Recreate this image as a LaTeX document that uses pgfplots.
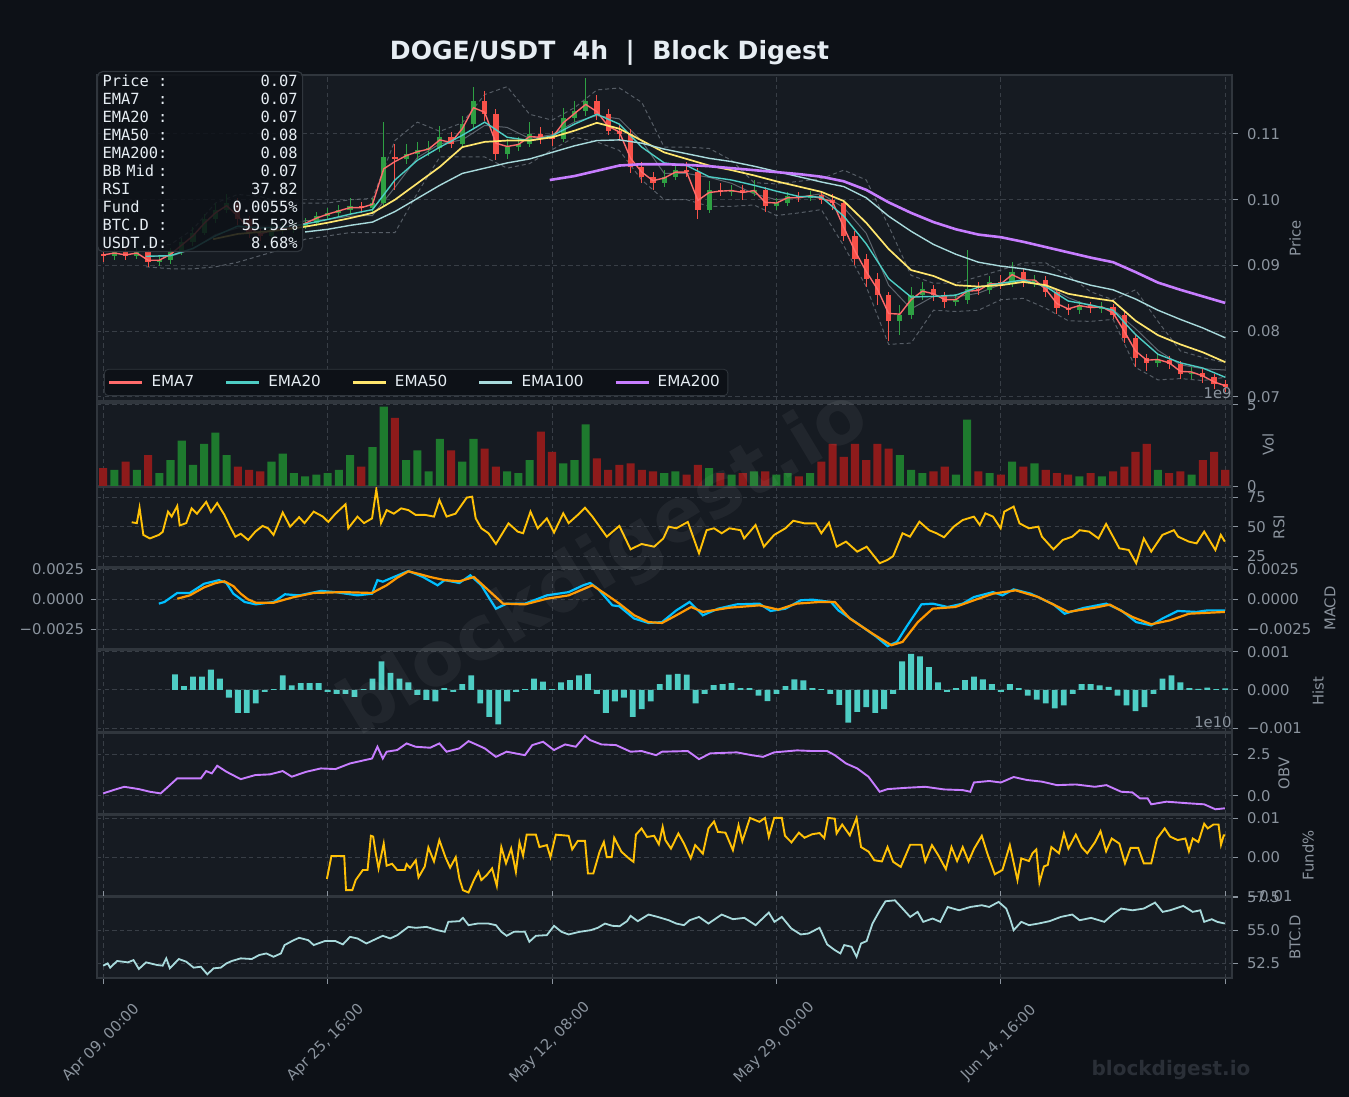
\documentclass[border=0pt]{standalone}
\usepackage{fontspec}
\setmainfont{DejaVu Sans}
\newfontfamily\monofont{DejaVu Sans Mono}
\usepackage{pgfplots}
\usepackage{pgfplotstable}
\pgfplotsset{compat=1.18}

\definecolor{figbg}{HTML}{0D1117}
\definecolor{axbg}{HTML}{161B22}
\definecolor{spine}{HTML}{30363D}
\definecolor{gridc}{HTML}{383E46}
\definecolor{tickc}{HTML}{8B949E}
\definecolor{txt}{HTML}{E6EDF3}
\definecolor{cup}{HTML}{2EA043}
\definecolor{cdn}{HTML}{F85149}
\definecolor{vup}{HTML}{1E7A2E}
\definecolor{vdn}{HTML}{8E1B1B}
\definecolor{ema7}{HTML}{FF6B6B}
\definecolor{ema20}{HTML}{4ECDC4}
\definecolor{ema50}{HTML}{FFE66D}
\definecolor{ema100}{HTML}{A8DADC}
\definecolor{ema200}{HTML}{C77DFF}
\definecolor{rsic}{HTML}{FFC107}
\definecolor{macdc}{HTML}{00BFFF}
\definecolor{sigc}{HTML}{FF9800}
\definecolor{wmk}{HTML}{2A2F37}

\newcommand{\tickfont}{\fontsize{7.4}{8.8}\selectfont}
\newcommand{\infoline}[2]{\makebox[97.5pt][s]{\makebox[27.8pt][l]{#1}:\hfill #2}}

\pgfplotstableread{
x o c h l
5 0.0915 0.0920 0.0928 0.0908
15 0.0915 0.0920 0.0927 0.0910
25 0.0905 0.0908 0.0914 0.0899
30 0.0908 0.0920 0.0926 0.0903
35 0.0920 0.0935 0.0942 0.0916
40 0.0935 0.0950 0.0958 0.0930
45 0.0950 0.0970 0.0978 0.0946
50 0.0970 0.0985 0.0995 0.0965
55 0.0985 0.0995 0.1008 0.0980
75 0.0945 0.0955 0.0962 0.0940
80 0.0955 0.0957 0.0966 0.0948
85 0.0957 0.0960 0.0968 0.0950
90 0.0960 0.0965 0.0972 0.0955
95 0.0965 0.0975 0.0982 0.0960
100 0.0975 0.0980 0.0988 0.0970
105 0.0980 0.0985 0.0992 0.0974
110 0.0985 0.0990 0.1002 0.0978
120 0.0988 0.0995 0.1003 0.0982
125 0.0995 0.1065 0.1118 0.0990
135 0.1062 0.1070 0.1085 0.1055
140 0.1070 0.1075 0.1088 0.1062
145 0.1075 0.1078 0.1090 0.1066
150 0.1078 0.1095 0.1112 0.1072
160 0.1085 0.1115 0.1128 0.1080
165 0.1115 0.1150 0.1172 0.1108
180 0.1070 0.1080 0.1092 0.1062
185 0.1080 0.1085 0.1096 0.1074
190 0.1085 0.1100 0.1118 0.1080
205 0.1093 0.1125 0.1140 0.1088
210 0.1125 0.1135 0.1150 0.1118
215 0.1135 0.1150 0.1185 0.1128
250 0.1025 0.1035 0.1045 0.1020
255 0.1035 0.1045 0.1052 0.1030
270 0.0985 0.1015 0.1028 0.0980
280 0.1013 0.1015 0.1022 0.1005
290 0.1010 0.1015 0.1030 0.1005
300 0.0990 0.0995 0.1002 0.0984
305 0.0995 0.1005 0.1012 0.0990
315 0.1003 0.1007 0.1014 0.0998
355 0.0815 0.0825 0.0840 0.0795
360 0.0825 0.0855 0.0868 0.0818
365 0.0855 0.0865 0.0875 0.0848
380 0.0845 0.0848 0.0856 0.0838
385 0.0848 0.0865 0.0924 0.0842
395 0.0862 0.0875 0.0884 0.0856
405 0.0872 0.0890 0.0905 0.0868
415 0.0875 0.0878 0.0886 0.0868
435 0.0832 0.0840 0.0846 0.0826
445 0.0835 0.0837 0.0844 0.0828
470 0.0752 0.0757 0.0764 0.0745
485 0.0735 0.0737 0.0745 0.0728
}\candup

\pgfplotstableread{
x o c h l
0 0.0918 0.0915 0.0925 0.0905
10 0.0920 0.0915 0.0926 0.0908
20 0.0920 0.0905 0.0924 0.0898
60 0.0995 0.0970 0.1002 0.0962
65 0.0970 0.0950 0.0976 0.0942
70 0.0950 0.0945 0.0957 0.0937
115 0.0990 0.0988 0.0996 0.0980
130 0.1065 0.1062 0.1085 0.1015
155 0.1095 0.1085 0.1103 0.1078
170 0.1150 0.1130 0.1165 0.1120
175 0.1130 0.1070 0.1138 0.1060
195 0.1100 0.1095 0.1110 0.1085
200 0.1095 0.1093 0.1105 0.1082
220 0.1150 0.1130 0.1160 0.1122
225 0.1130 0.1105 0.1138 0.1098
230 0.1105 0.1100 0.1115 0.1090
235 0.1100 0.1050 0.1108 0.1040
240 0.1050 0.1035 0.1058 0.1025
245 0.1035 0.1025 0.1042 0.1015
260 0.1045 0.1042 0.1058 0.1035
265 0.1042 0.0985 0.1048 0.0970
275 0.1015 0.1013 0.1025 0.1005
285 0.1015 0.1010 0.1022 0.1000
295 0.1015 0.0990 0.1020 0.0982
310 0.1005 0.1003 0.1012 0.0996
320 0.1007 0.1000 0.1012 0.0993
325 0.1000 0.0995 0.1008 0.0985
330 0.0995 0.0945 0.1000 0.0938
335 0.0945 0.0910 0.0952 0.0900
340 0.0910 0.0880 0.0918 0.0868
345 0.0880 0.0855 0.0888 0.0840
350 0.0855 0.0815 0.0860 0.0785
370 0.0865 0.0855 0.0870 0.0846
375 0.0855 0.0845 0.0860 0.0835
390 0.0865 0.0862 0.0875 0.0855
400 0.0875 0.0872 0.0886 0.0865
410 0.0890 0.0875 0.0895 0.0868
420 0.0878 0.0860 0.0884 0.0852
425 0.0860 0.0835 0.0864 0.0826
430 0.0835 0.0832 0.0842 0.0825
440 0.0840 0.0835 0.0845 0.0828
450 0.0837 0.0825 0.0842 0.0818
455 0.0825 0.0790 0.0830 0.0782
460 0.0790 0.0760 0.0795 0.0745
465 0.0760 0.0752 0.0766 0.0740
475 0.0757 0.0750 0.0762 0.0742
480 0.0750 0.0735 0.0755 0.0728
490 0.0737 0.0730 0.0742 0.0722
495 0.0730 0.0720 0.0735 0.0712
500 0.0720 0.0715 0.0726 0.0708
}\canddn

\pgfplotsset{
  panel/.style={
    anchor=north west, scale only axis, width=567.5pt,
    xmin=-2.76, xmax=503,
    axis background/.style={fill=axbg},
    axis line style={draw=spine, line width=0.6pt},
    tick label style={font=\tickfont, text=tickc},
    xtick={0,100,200,300,400,500}, xticklabels={},
    xtick style={draw=none},
    ytick pos=right, yticklabel pos=right,
    ytick style={draw=tickc, line width=0.5pt},
    tick align=outside, major tick length=3pt,
    xmajorgrids, ymajorgrids,
    major grid style={draw=gridc, line width=0.5pt, dash pattern=on 2.2pt off 1.6pt},
    yticklabel style={xshift=1pt},
    every axis y label/.style={at={(rel axis cs:1,0.5)}, anchor=center, font=\tickfont, text=tickc},
    /pgf/number format/assume math mode=true,
  },
  candle/.style 2 args={forget plot, draw=none, mark=none, error bars/.cd, y dir=both, y explicit, error mark=none, error bar style={line width=#1, draw=#2}},
}

\begin{document}
\begin{tikzpicture}
\fill[figbg] (0pt,0pt) rectangle (674.5pt,-548.5pt);

% ---------------- Price ----------------
\begin{axis}[panel, at={(48.5pt,-37.5pt)}, height=163pt,
  ymin=0.06939, ymax=0.11897,
  ytick={0.07,0.08,0.09,0.10,0.11}, yticklabels={0.07,0.08,0.09,0.10,0.11},
  ylabel={Price}, ylabel style={xshift=31.5pt, rotate=90},
  legend style={at={(0,0)}, anchor=south west, xshift=3.5pt, yshift=2.5pt,
    fill=figbg, draw=spine, rounded corners=2pt, text=txt,
    font=\fontsize{7.6}{9}\selectfont, legend columns=5,
    inner xsep=2pt, inner ysep=1pt,
    /tikz/every odd column/.append style={column sep=2pt},
    /tikz/every even column/.append style={column sep=13.5pt}},
  legend cell align=left,
  legend image code/.code={\draw[#1, line width=1.05pt] (0pt,0pt) -- (16.5pt,0pt);},
]
\addplot[forget plot, tickc, opacity=0.55, line width=0.5pt, dash pattern=on 2pt off 1.5pt] coordinates {
(19,0.0930)(30,0.0932)(40,0.0955)(50,0.0995)(60,0.1008)(70,0.1005)(80,0.0995)(90,0.0995)(100,0.0995)(110,0.1000)(120,0.1002)(130,0.1090)(140,0.1118)(150,0.1104)(160,0.1117)(170,0.1160)(180,0.1172)(190,0.1130)(200,0.1121)(210,0.1140)(220,0.1167)(230,0.1170)(240,0.1148)(250,0.1080)(260,0.1080)(270,0.1078)(280,0.1060)(290,0.1026)(300,0.1024)(310,0.1028)(320,0.1032)(330,0.1045)(340,0.1030)(350,0.0960)(360,0.0885)(370,0.0873)(380,0.0873)(390,0.0883)(400,0.0893)(410,0.0904)(420,0.0904)(430,0.0885)(440,0.0860)(450,0.0848)(460,0.0863)(470,0.0815)(480,0.0770)(490,0.0760)(500,0.0752)};
\addplot[forget plot, tickc, opacity=0.55, line width=0.5pt, dash pattern=on 2pt off 1.5pt] coordinates {
(19,0.0898)(30,0.0895)(40,0.0895)(50,0.0898)(60,0.0905)(70,0.0915)(80,0.0925)(90,0.0940)(100,0.0945)(110,0.0950)(120,0.0950)(130,0.0950)(140,0.1010)(150,0.1065)(160,0.1065)(170,0.1065)(180,0.1048)(190,0.1055)(200,0.1076)(210,0.1095)(220,0.1088)(230,0.1075)(240,0.1030)(250,0.1000)(260,0.1000)(270,0.0990)(280,0.0990)(290,0.0992)(300,0.0976)(310,0.0980)(320,0.0985)(330,0.0930)(340,0.0868)(350,0.0780)(360,0.0782)(370,0.0832)(380,0.0830)(390,0.0832)(400,0.0848)(410,0.0850)(420,0.0835)(430,0.0816)(440,0.0815)(450,0.0818)(460,0.0745)(470,0.0726)(480,0.0728)(490,0.0725)(500,0.0730)};
\addplot[forget plot, tickc, opacity=0.6, line width=0.5pt] coordinates {
(19,0.0914)(30,0.0914)(40,0.0925)(50,0.0947)(60,0.0957)(70,0.0960)(80,0.0960)(90,0.0968)(100,0.0970)(110,0.0975)(120,0.0976)(130,0.1019)(140,0.1064)(150,0.1085)(160,0.1091)(170,0.1113)(180,0.1110)(190,0.1093)(200,0.1099)(210,0.1118)(220,0.1128)(230,0.1123)(240,0.1089)(250,0.1040)(260,0.1040)(270,0.1034)(280,0.1025)(290,0.1009)(300,0.1000)(310,0.1004)(320,0.1009)(330,0.0988)(340,0.0949)(350,0.0870)(360,0.0834)(370,0.0853)(380,0.0852)(390,0.0858)(400,0.0871)(410,0.0877)(420,0.0870)(430,0.0851)(440,0.0838)(450,0.0833)(460,0.0804)(470,0.0771)(480,0.0749)(490,0.0743)(500,0.0741)};
% candles: wicks
\addplot[candle={0.5pt}{cup}]
  table[x=x, y expr={(\thisrow{h}+\thisrow{l})/2}, y error expr={(\thisrow{h}-\thisrow{l})/2}] {\candup};
\addplot[candle={0.5pt}{cdn}]
  table[x=x, y expr={(\thisrow{h}+\thisrow{l})/2}, y error expr={(\thisrow{h}-\thisrow{l})/2}] {\canddn};
% candles: bodies
\addplot[candle={2.6pt}{cup}]
  table[x=x, y expr={(\thisrow{o}+\thisrow{c})/2}, y error expr={abs(\thisrow{c}-\thisrow{o})/2}] {\candup};
\addplot[candle={2.6pt}{cdn}]
  table[x=x, y expr={(\thisrow{o}+\thisrow{c})/2}, y error expr={abs(\thisrow{c}-\thisrow{o})/2}] {\canddn};
% EMAs
\addplot[ema7, line width=0.7pt] coordinates {
(0,0.0916)(5,0.0919)(10,0.0916)(15,0.0919)(20,0.0908)(25,0.0908)(30,0.0917)(35,0.0931)(40,0.0945)(45,0.0964)(50,0.0980)(55,0.0991)(60,0.0975)(65,0.0956)(70,0.0948)(75,0.0953)(80,0.0956)(85,0.0959)(90,0.0964)(95,0.0972)(100,0.0978)(105,0.0983)(110,0.0988)(115,0.0988)(120,0.0993)(125,0.1047)(130,0.1058)(135,0.1067)(140,0.1073)(145,0.1077)(150,0.1091)(155,0.1087)(160,0.1108)(165,0.1140)(170,0.1133)(175,0.1086)(180,0.1081)(185,0.1084)(190,0.1096)(195,0.1095)(200,0.1094)(205,0.1117)(210,0.1131)(215,0.1145)(220,0.1134)(225,0.1112)(230,0.1103)(235,0.1063)(240,0.1042)(245,0.1029)(250,0.1033)(255,0.1042)(260,0.1042)(265,0.0999)(270,0.1011)(275,0.1013)(280,0.1014)(285,0.1011)(290,0.1014)(295,0.0996)(300,0.0995)(305,0.1003)(310,0.1003)(315,0.1006)(320,0.1002)(325,0.0997)(330,0.0958)(335,0.0922)(340,0.0891)(345,0.0864)(350,0.0827)(355,0.0826)(360,0.0848)(365,0.0861)(370,0.0857)(375,0.0848)(380,0.0848)(385,0.0861)(390,0.0862)(395,0.0872)(400,0.0872)(405,0.0886)(410,0.0878)(415,0.0878)(420,0.0864)(425,0.0842)(430,0.0834)(435,0.0839)(440,0.0836)(445,0.0837)(450,0.0828)(455,0.0800)(460,0.0770)(465,0.0756)(470,0.0757)(475,0.0752)(480,0.0739)(485,0.0738)(490,0.0732)(495,0.0723)(500,0.0717)};
\addlegendentry{EMA7}
\addplot[ema20, line width=0.7pt] coordinates {
(19,0.0914)(30,0.0915)(40,0.0926)(50,0.0945)(60,0.0960)(70,0.0957)(80,0.0958)(90,0.0963)(100,0.0970)(110,0.0978)(120,0.0985)(130,0.1030)(140,0.1060)(150,0.1080)(160,0.1098)(170,0.1118)(180,0.1095)(190,0.1090)(200,0.1097)(210,0.1115)(220,0.1130)(230,0.1115)(240,0.1080)(250,0.1056)(260,0.1052)(270,0.1035)(280,0.1030)(290,0.1022)(300,0.1013)(310,0.1005)(320,0.1004)(330,0.0975)(340,0.0933)(350,0.0880)(360,0.0852)(370,0.0853)(380,0.0855)(390,0.0867)(400,0.0873)(410,0.0878)(420,0.0868)(430,0.0846)(440,0.0840)(450,0.0832)(460,0.0795)(470,0.0765)(480,0.0752)(490,0.0744)(500,0.0730)};
\addlegendentry{EMA20}
\addplot[ema50, line width=0.85pt] coordinates {
(49,0.0940)(60,0.0948)(70,0.0951)(80,0.0954)(90,0.0959)(100,0.0965)(110,0.0972)(120,0.0980)(130,0.1000)(140,0.1025)(150,0.1050)(160,0.1080)(170,0.1088)(180,0.1090)(190,0.1090)(200,0.1095)(210,0.1105)(220,0.1117)(230,0.1108)(240,0.1090)(250,0.1072)(260,0.1062)(270,0.1052)(280,0.1045)(290,0.1037)(300,0.1028)(310,0.1020)(320,0.1012)(330,0.0998)(340,0.0965)(350,0.0925)(360,0.0893)(370,0.0884)(380,0.0870)(390,0.0868)(400,0.0870)(410,0.0875)(420,0.0870)(430,0.0857)(440,0.0851)(450,0.0846)(460,0.0816)(470,0.0794)(480,0.0780)(490,0.0768)(500,0.0753)};
\addlegendentry{EMA50}
\addplot[ema100, line width=0.7pt] coordinates {
(90,0.0951)(100,0.0955)(110,0.0961)(120,0.0966)(130,0.0982)(140,0.1002)(150,0.1022)(160,0.1040)(170,0.1048)(180,0.1056)(190,0.1062)(200,0.1072)(210,0.1082)(220,0.1090)(230,0.1091)(240,0.1086)(250,0.1077)(260,0.1070)(270,0.1063)(280,0.1058)(290,0.1051)(300,0.1043)(310,0.1035)(320,0.1027)(330,0.1020)(340,0.1003)(350,0.0975)(360,0.0952)(370,0.0932)(380,0.0917)(390,0.0905)(400,0.0899)(410,0.0895)(420,0.0889)(430,0.0880)(440,0.0870)(450,0.0863)(460,0.0849)(470,0.0832)(480,0.0818)(490,0.0805)(500,0.0790)};
\addlegendentry{EMA100}
\addplot[ema200, line width=1.3pt] coordinates {
(199,0.1030)(210,0.1036)(220,0.1044)(230,0.1052)(240,0.1054)(250,0.1054)(260,0.1053)(270,0.1051)(280,0.1048)(290,0.1045)(300,0.1042)(310,0.1039)(320,0.1035)(330,0.1028)(340,0.1015)(350,0.0996)(360,0.0980)(370,0.0966)(380,0.0955)(390,0.0947)(400,0.0943)(410,0.0936)(420,0.0928)(430,0.0920)(440,0.0912)(450,0.0905)(460,0.0890)(470,0.0874)(480,0.0863)(490,0.0853)(500,0.0843)};
\addlegendentry{EMA200}
\end{axis}

% ---------------- Volume ----------------
\begin{axis}[panel, at={(48.5pt,-201.5pt)}, height=41.5pt,
  ymin=0, ymax=5.12, ytick={0,5}, yticklabels={0,5},
  ylabel={Vol}, ylabel style={xshift=18pt, rotate=90}]
\addplot[ybar, bar width=3.6, bar shift=0pt, fill=vup, draw=none] table[x=x, y=v] {
x v
5 1.0
15 1.0
25 0.8
30 1.6
35 2.8
40 1.3
45 2.6
50 3.3
55 1.9
75 1.5
80 2.0
85 0.8
90 0.6
95 0.7
100 0.8
105 1.0
110 1.9
120 2.4
125 4.9
135 1.6
140 2.2
145 0.9
150 2.9
160 1.5
165 2.9
180 0.9
185 0.8
190 1.6
205 1.4
210 1.6
215 3.8
250 0.8
255 0.9
270 1.1
280 0.7
290 0.9
300 0.7
305 0.8
315 0.8
355 1.9
360 1.0
365 0.8
380 0.7
385 4.1
395 0.8
405 1.5
415 1.4
435 0.6
445 0.6
470 1.0
485 0.7
};
\addplot[ybar, bar width=3.6, bar shift=0pt, fill=vdn, draw=none] table[x=x, y=v] {
x v
0 1.1
10 1.5
20 1.9
60 1.2
65 1.0
70 0.9
115 1.2
130 4.2
155 2.2
170 2.3
175 1.2
195 3.35
200 2.1
220 1.7
225 1.0
230 1.3
235 1.4
240 1.0
245 0.9
260 0.7
265 1.3
275 0.8
285 0.8
295 0.9
310 0.6
320 1.5
325 2.6
330 1.8
335 2.6
340 1.6
345 2.6
350 2.3
370 0.9
375 1.2
390 0.9
400 0.7
410 1.2
420 1.0
425 0.8
430 0.7
440 0.8
450 0.9
455 1.2
460 2.1
465 2.6
475 0.8
480 0.9
490 1.6
495 2.1
500 1.0
};
\end{axis}

% ---------------- RSI ----------------
\begin{axis}[panel, at={(48.5pt,-243.5pt)}, height=40pt,
  ymin=15.8, ymax=83.6, ytick={25,50,75}, yticklabels={25,50,75},
  ylabel={RSI}, ylabel style={xshift=23.5pt, rotate=90}]
\addplot[rsic, line width=0.95pt] coordinates {
(12.7,53.7)(15,53)(16.2,66)(17.9,43)(20.8,40)(24.8,43)(26.5,45.5)(28.9,62.7)(30.5,58.5)(33,67.5)(34.1,51)(37,53)(39.4,65.5)(41.8,61)(45.9,71)(48,62.5)(50.8,70)(54,60)(56.5,50)(58.9,41.5)(61.3,44)(64.6,38.7)(67.8,45.8)(71,50.6)(73.5,48.6)(75.9,43)(80,62)(83.3,50)(87.3,58)(89.7,53)(93.8,62.7)(97.9,58.5)(100.3,54)(103.5,61)(108,69)(109.2,48.6)(113.3,58.5)(116.2,53)(119.8,57)(121.7,81.6)(123.8,53)(126.3,64)(129.5,61)(132.8,65.5)(136,64)(139.2,60)(143.3,60)(147.4,58.5)(149.8,72.6)(153,58.5)(157,61)(162,74.6)(164.4,75.4)(166,57)(168.5,48.6)(171.7,44.4)(175,35.3)(180.6,52.8)(184.7,45.8)(187.1,44.4)(190.4,62.7)(193.6,48.6)(197.7,57)(200.9,45)(205,61.3)(207.4,53)(211.5,60)(214.7,66)(218,58.5)(221.2,50)(224.4,41.5)(230,50.6)(235,30.8)(239.9,35.3)(245.5,33)(249.6,40)(252,50)(255.4,48.6)(260.5,54)(265.5,27.4)(268.9,47)(272.2,48.6)(275.6,44.4)(279,48.6)(284,47)(285.6,40)(290.7,51.4)(294.4,33)(299,43)(304,48.6)(307.5,55)(312.5,52.8)(317.5,52.8)(320,44.4)(323.4,53.4)(326.8,33)(331,37.3)(336,28.8)(340.2,33)(346,19)(349.5,21.8)(352,25)(356.2,44.4)(359.5,41.5)(363.7,54.2)(368,47)(371.3,44.4)(374.7,41)(379,50)(383,55.6)(388,58.5)(390.6,51.4)(393.1,61.3)(396.5,58.5)(399.9,48.6)(401.5,62.7)(405.7,67)(408.3,52.8)(412.5,48.6)(416.7,50)(418.3,41.5)(423.4,30.8)(427.6,38.7)(431.8,41.5)(435.1,47)(439.3,45.8)(443.5,40)(446.9,52.3)(452.8,31.6)(457,30.2)(460.3,19)(463.7,40)(467,28.8)(472,43)(477.1,47)(479,41.5)(483.8,37.3)(487.2,35.8)(490.6,45.8)(495.6,30.2)(498,43)(499.8,37.3)};
\end{axis}

% ---------------- MACD (left labels) ----------------
\begin{axis}[panel, at={(48.5pt,-284pt)}, height=40.5pt,
  ymin=-4.14, ymax=2.61, ytick={-2.5,0,2.5}, yticklabels={−0.0025,0.0000,0.0025},
  ytick pos=left, yticklabel pos=left, yticklabel style={xshift=-1pt},
  xmajorgrids=false, ymajorgrids=false, axis background/.style={}, axis line style={draw=none}]
\addplot[draw=none] coordinates {(0,0)};
\end{axis}
% ---------------- MACD ----------------
\begin{axis}[panel, at={(48.5pt,-284pt)}, height=40.5pt,
  ymin=-4.14, ymax=2.61, ytick={-2.5,0,2.5}, yticklabels={−0.0025,0.0000,0.0025},
  ylabel={MACD}, ylabel style={xshift=49pt, rotate=90}]
\addplot[macdc, line width=1.1pt] coordinates {
(24.8,-0.36)(27.3,-0.22)(33,0.53)(38.6,0.53)(45,1.3)(51.6,1.6)(54.9,1.36)(58,0.47)(63,-0.22)(68,-0.42)(76,-0.22)(81,0.42)(87.3,0.33)(97,0.7)(103.5,0.6)(113.3,0.33)(119.8,0.47)(122.2,1.6)(124.6,1.47)(129.5,1.86)(136,2.36)(142.5,1.86)(149,1.17)(152.2,1.6)(158.7,1.36)(163.6,2.0)(168.5,1.17)(171.7,0.2)(175,-0.78)(179.8,-0.36)(188,-0.36)(197.7,0.33)(207.4,0.6)(213.9,1.17)(217,1.36)(220.4,0.89)(226.9,-0.5)(230,-0.58)(236.6,-1.6)(243,-1.97)(249,-1.9)(255.4,-0.92)(261.3,-0.22)(267.2,-1.33)(274,-0.78)(282.3,-0.42)(292.4,-0.36)(297.4,-0.97)(304,-0.78)(310.8,-0.08)(316,-0.03)(324.3,-0.22)(327.6,-0.92)(336,-2.0)(344.4,-3.1)(349.5,-3.9)(353.7,-3.55)(357.9,-2.3)(364.6,-0.42)(369.6,-0.36)(376.3,-0.64)(383,-0.36)(388,0.19)(396.5,0.6)(400.7,0.33)(405.7,0.83)(413.3,0.47)(423.4,-0.42)(428.4,-1.2)(436.8,-0.72)(446.9,-0.36)(453.6,-0.92)(460.3,-1.9)(467,-2.17)(472,-1.6)(478.8,-0.97)(487.2,-1.05)(492.2,-0.92)(499.8,-0.92)};
\addplot[sigc, line width=1.1pt] coordinates {
(33,0.05)(38.6,0.33)(45,1.0)(50,1.35)(54,1.5)(58,1.1)(61.3,0.47)(64.5,0.0)(68,-0.28)(76,-0.28)(84,0.14)(93.8,0.53)(106.8,0.6)(119.8,0.53)(126.3,1.17)(131,1.8)(136,2.33)(141,2.1)(145.7,1.86)(152.2,1.6)(158.7,1.5)(165.2,1.86)(171.7,0.75)(178.2,-0.36)(188,-0.42)(197.7,0.05)(207.4,0.33)(218,1.17)(223.6,0.47)(230,-0.36)(236.6,-1.33)(243,-1.9)(249,-1.97)(255.4,-1.33)(262,-0.64)(267.2,-1.05)(279,-0.7)(292.4,-0.5)(300.8,-0.86)(309,-0.36)(319.2,-0.22)(326,-0.22)(332.7,-1.6)(342.8,-2.86)(351.2,-3.83)(356.2,-3.55)(363,-1.9)(369.6,-0.78)(379.7,-0.64)(388,-0.08)(396.5,0.47)(406.6,0.75)(416.7,0.19)(430,-1.05)(441.8,-0.7)(448.6,-0.44)(458.6,-1.47)(467,-2.08)(475.4,-1.75)(483.8,-1.2)(499.8,-1.05)};
\end{axis}

% ---------------- Hist ----------------
\begin{axis}[panel, at={(48.5pt,-325pt)}, height=41pt,
  ymin=-1.097, ymax=1.044, ytick={-1,0,1}, yticklabels={−0.001,0.000,0.001},
  ylabel={Hist}, ylabel style={xshift=43pt, rotate=90}]
\addplot[ybar, bar width=2.6, bar shift=0pt, fill=ema20, draw=none] table[x=x, y=h] {
x h
32 0.41
36 0.1
40 0.35
44 0.35
48 0.53
52 0.3
56 -0.2
60 -0.6
64 -0.6
68 -0.35
72 -0.05
76 0.02
80 0.38
84 0.12
88 0.18
92 0.18
96 0.18
100 -0.05
104 -0.1
108 -0.1
112 -0.18
116 0.02
120 0.3
124 0.75
128 0.45
132 0.3
136 0.2
140 -0.13
144 -0.26
148 -0.3
152 0.05
156 -0.05
160 0.15
164 0.38
168 -0.35
172 -0.7
176 -0.9
180 -0.3
184 -0.05
188 0.02
192 0.3
196 0.22
200 0.02
204 0.2
208 0.26
212 0.38
216 0.42
220 -0.1
224 -0.6
228 -0.3
232 -0.2
236 -0.7
240 -0.5
244 -0.3
248 0.15
252 0.4
256 0.42
260 0.4
264 -0.35
268 -0.1
272 0.13
276 0.15
280 0.18
284 0.05
288 0.05
292 -0.15
296 -0.29
300 -0.1
304 0.1
308 0.28
312 0.25
316 0.05
320 0.02
324 -0.1
328 -0.39
332 -0.85
336 -0.57
340 -0.45
344 -0.6
348 -0.5
352 -0.1
356 0.75
360 0.94
364 0.88
368 0.6
372 0.2
376 -0.05
380 0.05
384 0.26
388 0.35
392 0.28
396 0.15
400 -0.05
404 0.15
408 0.05
412 -0.15
416 -0.25
420 -0.35
424 -0.48
428 -0.4
432 -0.1
436 0.15
440 0.15
444 0.12
448 0.08
452 -0.15
456 -0.4
460 -0.55
464 -0.45
468 -0.1
472 0.3
476 0.38
480 0.2
484 0.05
488 0.03
492 0.06
496 0.02
500 0.04
};
\end{axis}

% ---------------- OBV ----------------
\begin{axis}[panel, at={(48.5pt,-366.5pt)}, height=40.5pt,
  ymin=-1.105, ymax=3.79, ytick={0,2.5}, yticklabels={0.0,2.5},
  ylabel={OBV}, ylabel style={xshift=26pt, rotate=90}]
\addplot[ema200, line width=0.95pt] coordinates {
(0,0.14)(4.5,0.34)(9.4,0.54)(15.9,0.40)(20.8,0.24)(25.6,0.14)(28.9,0.54)(33,1.05)(38.6,1.05)(43.5,1.05)(45.9,1.49)(48.4,1.35)(50.8,1.81)(54.9,1.45)(61.3,1.0)(67.8,1.25)(74.3,1.29)(80,1.49)(84,1.15)(90.6,1.45)(97,1.65)(103.5,1.61)(110,1.95)(116.5,2.15)(119.8,2.25)(122.2,2.96)(124.6,2.25)(126.3,2.66)(131,2.76)(135.2,3.16)(139.2,2.96)(145.7,2.90)(149.8,3.16)(153,2.66)(158.7,2.86)(162.8,3.30)(166.8,3.06)(170,2.86)(175,2.35)(179.8,2.66)(187.9,2.45)(191.2,3.06)(196,3.26)(200.9,2.76)(205.8,3.10)(210.6,2.96)(214.7,3.62)(217,3.36)(222,3.10)(228.5,3.06)(235,2.66)(239.9,2.70)(246.4,2.45)(249,2.66)(260.5,2.70)(265.5,2.21)(270.5,2.56)(282.3,2.62)(289,2.45)(294,2.35)(299,2.62)(309.2,2.74)(316,2.70)(322.6,2.70)(326,2.45)(331,1.95)(336,1.65)(341,1.15)(346,0.24)(349.5,0.40)(358,0.48)(366.3,0.54)(374.7,0.38)(383,0.34)(386.4,0.24)(388,0.80)(394.8,0.89)(400,0.80)(405.7,1.13)(411.6,0.95)(418.3,0.85)(425,0.64)(433.4,0.68)(441.9,0.54)(447,0.64)(453.6,0.24)(458.6,0.20)(462,-0.16)(465.4,-0.16)(467,-0.52)(473.8,-0.36)(483.8,-0.46)(490.6,-0.52)(495.6,-0.82)(499.8,-0.76)};
\end{axis}

% ---------------- Funding ----------------
\begin{axis}[panel, at={(48.5pt,-407.5pt)}, height=40.5pt,
  ymin=-10, ymax=10.85, ytick={-10,0,10}, yticklabels={−0.01,0.00,0.01},
  ylabel={Fund\%}, ylabel style={xshift=38pt, rotate=90}]
\addplot[rsic, line width=0.95pt] coordinates {
(99.7,-5.6)(101.7,0.3)(107.4,0.3)(108.2,-8.5)(111,-8.5)(112.5,-5.9)(115.7,-3.3)(117.8,-3.3)(119.3,5.5)(120.3,5.3)(121.4,1.2)(122.7,-2.9)(125,3.5)(126.3,-2.2)(128.7,-1.7)(131,-3.3)(134.4,-3.3)(135.2,-1.8)(136.8,-2.8)(139.3,-0.8)(140.5,-5.2)(143.3,-2.4)(144.9,2.5)(147.4,-1.1)(149.8,4.4)(152.5,0)(154.6,-2.7)(157.1,0)(158.7,-5.5)(160.3,-8.5)(162.8,-9.1)(165.2,-5.9)(167.2,-3.7)(168.5,-5.9)(170.9,-4.6)(173.3,-2.9)(175.4,-7.4)(177.4,2.6)(179.5,-1.6)(181.8,2.2)(183.9,-3.8)(185.5,3.8)(187.1,0.4)(188.7,5.8)(192.8,5.8)(194.4,2.6)(197.7,3.1)(199.3,0)(201.7,5.8)(207.4,5.5)(209,2)(211.5,4.2)(214.7,4.2)(216,-4.2)(218.4,-4.2)(221.2,1.4)(223.1,3.9)(224.4,0)(226.6,0)(227.7,5)(230.9,1.4)(234.2,-0.3)(236.3,-1.2)(237.4,5.8)(239.9,7.4)(242.3,5.2)(245.5,5.5)(247.6,3.3)(249.3,7.8)(250.5,4.4)(253,2.2)(256.3,6.1)(258.8,3.5)(261.8,-0.3)(263.8,3.1)(267.2,0.9)(269.7,7.4)(272.2,9.2)(273.9,6.5)(277.3,6.3)(280.6,1.8)(283.1,8.2)(284.8,4.1)(288.2,10.1)(292.4,9.1)(294.9,10.1)(296.6,5.2)(299,10.1)(302.4,10.1)(303.8,5.5)(306.7,3.8)(310,6.3)(312.5,5)(315.9,5.9)(319.2,6.2)(321.3,4.9)(323,10.1)(326,9.9)(326.8,6.1)(329.3,8.4)(332.7,5.6)(335.7,10.1)(337.7,2.6)(341.1,1.4)(343.6,-0.8)(347,-1.1)(349.5,2.6)(352,-1.2)(355.4,-2.5)(359.6,3.2)(364.6,3.2)(366.3,-1.1)(369.3,3.1)(372.1,0.5)(375.5,-3.1)(378,2.6)(380.5,-1)(383,2.6)(385.6,-1.1)(388.1,2.2)(391.5,5.5)(394,0.9)(397.3,-4.4)(400.7,-3.3)(404,3.1)(407.4,-5.9)(409.1,-0.3)(412.5,-1)(414.1,1)(415.8,2)(417.2,-6.5)(419.2,-2.4)(420.9,-2)(422.5,2.6)(425.9,1)(428.1,6.1)(430.1,2.2)(433.4,5.8)(436,2.6)(438.5,1)(441.9,3.8)(444.4,6.7)(446.9,1.5)(449.4,4.8)(452.8,3.5)(455.3,-1.6)(457.8,2.4)(461.2,2.4)(463.7,-1.6)(467,-1.6)(469.6,4.8)(473,7.4)(475.4,5.3)(478.8,4.4)(482.2,4.8)(483.8,1.5)(485.5,4.8)(488,3.9)(490.6,8.6)(492.2,7.4)(494.7,8.4)(497,8.4)(498.1,3.2)(499.3,5.6)(500,5.6)};
\end{axis}

% ---------------- BTC.D ----------------
\begin{axis}[panel, at={(48.5pt,-448.5pt)}, height=40.5pt,
  ymin=51.4, ymax=57.5, ytick={52.5,55,57.5}, yticklabels={52.5,55.0,57.5},
  ylabel={BTC.D}, ylabel style={xshift=31.5pt, rotate=90},
  xtick style={draw=tickc, line width=0.5pt},
  xticklabels={{Apr 09, 00:00},{Apr 25, 16:00},{May 12, 08:00},{May 29, 00:00},{Jun 14, 16:00},{}},
  xticklabel style={anchor=center, xshift=-1pt, yshift=-29.5pt, rotate=45}]
\addplot[ema100, line width=0.9pt] coordinates {
(0,52.33)(2,52.5)(3.1,52.18)(6.2,52.68)(11,52.58)(13.5,52.75)(15.9,52.08)(19.1,52.58)(24,52.38)(26.5,52.33)(28.1,52.88)(29.7,52.13)(33.7,52.83)(37,52.63)(40.3,52.18)(43.5,52.25)(46.4,51.68)(49.2,52.13)(52.4,52.18)(54.9,52.5)(57.3,52.68)(61.3,52.88)(66.2,52.83)(69.5,53.13)(72.7,53.25)(75.9,53.0)(79.2,53.25)(80.8,53.88)(84.9,54.25)(87.3,54.43)(91.4,54.25)(93.8,53.88)(98.7,54.18)(103.5,54.18)(106.8,53.93)(110,54.5)(113.3,54.38)(117.3,54.0)(121.4,54.33)(124.6,54.58)(127.9,54.38)(131.1,54.63)(136,55.25)(139.3,55.18)(144.1,55.25)(149,55.0)(152.2,54.88)(153.8,55.63)(158.7,55.68)(160.3,55.93)(162.8,55.38)(166.8,55.5)(171.7,55.5)(175,55.38)(177.4,54.88)(179.8,54.58)(183,54.88)(187.9,54.88)(189.9,54.13)(192.8,54.58)(197.7,54.63)(200.9,55.33)(204.2,54.88)(207.4,54.68)(212.3,54.88)(217.2,55.0)(220.4,55.18)(223.6,55.5)(226.9,55.33)(230.1,55.3)(233.4,55.68)(235,56.08)(238.2,55.68)(243,56.18)(247.1,56.0)(249.5,55.88)(252,55.75)(255.4,55.5)(258.8,55.38)(261.3,55.75)(265.5,56.0)(269.7,55.5)(275.6,56.18)(280.6,55.83)(285.7,55.93)(290.7,55.38)(296.6,56.33)(299.1,55.63)(302.4,56.0)(306.6,55.13)(310.8,54.68)(314.2,54.75)(319.2,55.18)(322.6,53.93)(326,53.5)(328.5,53.25)(330.2,53.88)(333.5,53.75)(335.7,53.0)(337.7,54.0)(340.2,54.18)(342.8,55.5)(346.1,56.5)(348.6,57.18)(352.8,57.25)(356.2,56.63)(359.6,56.0)(362.9,56.38)(365.4,55.63)(369.6,55.88)(373,55.63)(376.3,56.75)(381.4,56.5)(386.4,56.75)(391.5,56.88)(394.8,56.75)(399,57.13)(402.4,56.63)(404.1,55.88)(405.7,55.0)(409.1,55.63)(412.5,55.38)(416.7,55.5)(421.7,55.68)(426.7,56.0)(431.8,56.18)(435.1,55.75)(440.2,55.93)(446.1,55.63)(450.3,56.25)(453.6,56.63)(458.7,56.5)(463.7,56.63)(468.7,57.08)(472.1,56.38)(475.4,56.5)(481.3,56.83)(485.5,56.38)(488.9,56.5)(490.6,55.63)(494,55.83)(496.4,55.63)(499.8,55.5)};
\end{axis}

% offset labels
\node[anchor=south east, inner sep=0pt, font=\tickfont, text=tickc] at (616pt,-199.5pt) {1e9};
\node[anchor=south east, inner sep=0pt, font=\tickfont, text=tickc] at (616pt,-364pt) {1e10};

% title
\node[anchor=base, inner sep=0pt, font=\bfseries\fontsize{12.55}{14}\selectfont, text=txt] at (304.75pt,-29.65pt) {DOGE/USDT\ \ 4h\ \ |\ \ Block Digest};

% info box
\node[anchor=north west, fill=figbg, fill opacity=0.85, text opacity=1, draw=spine, line width=0.6pt,
  rounded corners=2.5pt, inner xsep=2.5pt, inner ysep=1.5pt, text width=97.5pt, align=left,
  font=\monofont\fontsize{7.7}{9}\selectfont, text=txt] at (48.5pt,-35.5pt) {%
\infoline{Price}{0.07}\\
\infoline{EMA7}{0.07}\\
\infoline{EMA20}{0.07}\\
\infoline{EMA50}{0.08}\\
\infoline{EMA200}{0.08}\\
\infoline{BB Mid}{0.07}\\
\infoline{RSI}{37.82}\\
\infoline{Fund}{0.0055\%}\\
\infoline{BTC.D}{55.52\%}\\
\infoline{USDT.D}{8.68\%}};

% watermarks
\node[rotate=31, font=\bfseries\fontsize{37.8}{40}\selectfont, text=white, opacity=0.05] at (302.5pt,-282.5pt) {blockdigest.io};
\node[font=\bfseries\fontsize{10}{12}\selectfont, text=wmk] at (585.5pt,-535pt) {blockdigest.io};

\pgfresetboundingbox
\path[use as bounding box] (0pt,0pt) rectangle (674.5pt,-548.5pt);
\end{tikzpicture}
\end{document}
